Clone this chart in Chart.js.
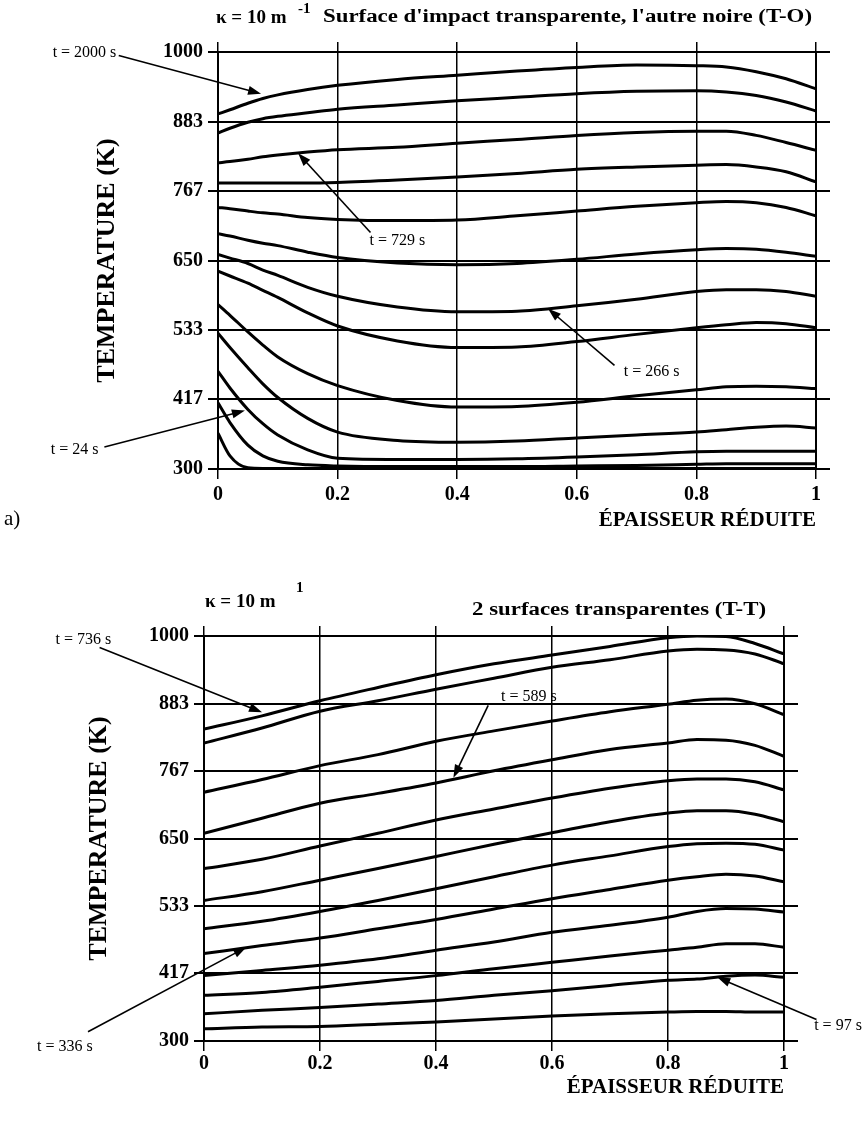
<!DOCTYPE html>
<html>
<head>
<meta charset="utf-8">
<script src="https://cdn.jsdelivr.net/npm/chart.js@4.4.1/dist/chart.umd.min.js"></script>
<style>
  body { margin: 0; background: #fff; width: 864px; height: 1123px; position: relative; overflow: hidden; }
  .box { position: absolute; left: 0; width: 864px; }
  #boxA { top: 0; height: 545px; }
  #boxB { top: 545px; height: 578px; }
  #lblA { position: absolute; left: 4px; top: 506px; font: 21px "Liberation Serif", serif; color: #000; }
</style>
</head>
<body>
<div class="box" id="boxA"><canvas id="chartTO"></canvas></div>
<div class="box" id="boxB"><canvas id="chartTT"></canvas></div>
<div id="lblA">a)</div>
<script>
// Tick labels (both charts)
const yTickLabels = [300, 417, 533, 650, 767, 883, 1000];
const xTickLabels = [0, 0.2, 0.4, 0.6, 0.8, 1];

// a) T-O : reduced thickness positions and temperature profiles (K), top to bottom
const xTO = [0, 0.02, 0.05, 0.075, 0.1, 0.15, 0.2, 0.3, 0.4, 0.5, 0.6, 0.7, 0.8, 0.85, 0.9, 0.95, 1];
const toCurve1  = [896, 903, 914, 922, 928, 937, 944, 954, 961, 968, 974, 978, 977, 975, 967, 955, 938];
const toCurve2  = [864, 872, 882, 888, 892, 898, 904, 911, 918, 924, 930, 934, 935, 933, 927, 916, 901];
const toCurve3  = [814, 816, 820, 824, 827, 832, 836, 840, 847, 853, 860, 865, 867, 867, 860, 848, 835];
const toCurve4  = [780, 780, 780, 780, 780, 780, 781, 785, 790, 796, 803, 807, 810, 811, 807, 799, 782];
const toCurve5  = [739, 737, 733, 730, 728, 722, 719, 717, 718, 725, 733, 741, 747, 749, 747, 739, 725];
const toCurve6  = [695, 691, 684, 679, 675, 664, 655, 646, 643, 645, 652, 661, 668, 670, 669, 664, 657];
const toCurve7  = [660, 654, 645, 634, 625, 605, 590, 572, 564, 565, 574, 585, 598, 601, 601, 598, 590];
const toCurve8  = [632, 624, 612, 600, 588, 562, 540, 515, 504, 505, 514, 526, 537, 542, 546, 544, 537];
const toCurve9  = [576, 558, 530, 508, 488, 460, 440, 415, 404, 405, 412, 423, 433, 438, 439, 438, 435];
const toCurve10 = [528, 504, 470, 443, 420, 385, 362, 348, 345, 347, 352, 357, 362, 366, 370, 372, 369];
const toCurve11 = [464, 436, 400, 376, 357, 332, 318, 316, 316, 317, 320, 324, 329, 330, 330, 330, 330];
const toCurve12 = [411, 378, 340, 322, 313, 307, 305, 304, 304, 304, 305, 306, 308, 309, 309, 309, 309];
const toCurve13 = [360, 322, 302, 301, 301, 301, 301, 301, 301, 301, 301, 301, 301, 301, 301, 301, 301];

// b) T-T
const xTT = [0, 0.1, 0.2, 0.3, 0.4, 0.5, 0.6, 0.7, 0.8, 0.85, 0.9, 0.95, 1];
const ttCurve1  = [839, 862, 888, 911, 933, 952, 967, 982, 997, 1000, 999, 987, 969];
const ttCurve2  = [815, 841, 870, 888, 908, 927, 946, 959, 974, 977, 976, 969, 952];
const ttCurve3  = [730, 752, 776, 795, 818, 836, 853, 869, 882, 889, 891, 883, 864];
const ttCurve4  = [659, 685, 711, 728, 746, 767, 786, 804, 815, 821, 820, 811, 792];
const ttCurve5  = [598, 614, 637, 659, 682, 701, 720, 737, 750, 753, 753, 748, 734];
const ttCurve6  = [543, 558, 578, 598, 619, 640, 660, 679, 694, 698, 698, 692, 679];
const ttCurve7  = [494, 507, 524, 543, 563, 584, 604, 620, 636, 641, 642, 640, 630];
const ttCurve8  = [451, 465, 478, 494, 510, 528, 546, 562, 578, 584, 588, 585, 575];
const ttCurve9  = [413, 422, 431, 442, 457, 471, 488, 500, 514, 524, 529, 528, 523];
const ttCurve10 = [379, 384, 393, 403, 413, 425, 436, 447, 457, 462, 468, 468, 462];
const ttCurve11 = [347, 353, 358, 364, 370, 379, 387, 396, 405, 407, 412, 414, 410];
const ttCurve12 = [321, 324, 325, 329, 333, 338, 343, 347, 350, 351, 351, 350, 350];

const seriesTO = [toCurve1, toCurve2, toCurve3, toCurve4, toCurve5, toCurve6, toCurve7,
  toCurve8, toCurve9, toCurve10, toCurve11, toCurve12, toCurve13];
const seriesTT = [ttCurve1, ttCurve2, ttCurve3, ttCurve4, ttCurve5, ttCurve6, ttCurve7,
  ttCurve8, ttCurve9, ttCurve10, ttCurve11, ttCurve12];

const serif = '"Liberation Serif", "Times New Roman", serif';

function buildDatasets(xs, series) {
  return series.map(vals => ({
    data: xs.map((x, i) => ({ x: x, y: vals[i] })),
    borderColor: '#000',
    borderWidth: 3,
    pointRadius: 0,
    cubicInterpolationMode: 'monotone',
    fill: false
  }));
}

// arrow with filled head at (x1, y1)
function drawArrow(ctx, x0, y0, x1, y1) {
  const ang = Math.atan2(y1 - y0, x1 - x0);
  const len = 13, half = 4.5;
  ctx.lineWidth = 1.6;
  ctx.beginPath();
  ctx.moveTo(x0, y0);
  ctx.lineTo(x1 - Math.cos(ang) * len * 0.8, y1 - Math.sin(ang) * len * 0.8);
  ctx.stroke();
  ctx.beginPath();
  ctx.moveTo(x1, y1);
  ctx.lineTo(x1 - Math.cos(ang) * len - Math.sin(ang) * half, y1 - Math.sin(ang) * len + Math.cos(ang) * half);
  ctx.lineTo(x1 - Math.cos(ang) * len + Math.sin(ang) * half, y1 - Math.sin(ang) * len - Math.cos(ang) * half);
  ctx.closePath();
  ctx.fill();
}

// text squeezed/stretched to a given width
function fitText(ctx, text, x, y, width, align) {
  const w = ctx.measureText(text).width;
  const k = width / w;
  ctx.save();
  ctx.textAlign = 'left';
  const left = align === 'right' ? x - width : x;
  ctx.translate(left, y);
  ctx.scale(k, 1);
  ctx.fillText(text, 0, 0);
  ctx.restore();
}

const notesPlugin = {
  id: 'notes',
  afterDraw(chart, args, opts) {
    const { ctx, chartArea: a, scales } = chart;
    const sx = scales.x, sy = scales.y;
    ctx.save();
    ctx.fillStyle = '#000';
    ctx.strokeStyle = '#000';
    ctx.textBaseline = 'middle';

    // heading
    const h = opts.heading;
    ctx.font = 'bold 19px ' + serif;
    ctx.textAlign = 'left';
    ctx.fillText(h.kappa, a.left + h.kappaDx, a.top + h.kappaDy);
    ctx.font = 'bold 15px ' + serif;
    ctx.fillText(h.sup, a.left + h.supDx, a.top + h.supDy);
    ctx.font = 'bold 18px ' + serif;
    fitText(ctx, h.text, a.right + h.textDx, a.top + h.textDy, h.textW, 'right');

    // time labels with arrows
    ctx.font = '16px ' + serif;
    opts.notes.forEach(n => {
      ctx.textAlign = n.align;
      ctx.fillText(n.text, sx.getPixelForValue(n.at[0]), sy.getPixelForValue(n.at[1]));
      drawArrow(ctx,
        sx.getPixelForValue(n.from[0]), sy.getPixelForValue(n.from[1]),
        sx.getPixelForValue(n.to[0]), sy.getPixelForValue(n.to[1]));
    });
    ctx.restore();
  }
};

function makeChart(id, xs, series, geo, heading, notes) {
  const setY = s => { s.ticks = yTickLabels.map(v => ({ value: v })); };
  const setX = s => { s.ticks = xTickLabels.map(v => ({ value: v })); };
  return new Chart(document.getElementById(id), {
    type: 'line',
    data: { datasets: buildDatasets(xs, series) },
    plugins: [notesPlugin],
    options: {
      responsive: true,
      maintainAspectRatio: false,
      animation: false,
      events: [],
      layout: { padding: { top: geo.top - 10, right: 864 - geo.right - 14, left: 0, bottom: 0 } },
      plugins: {
        legend: { display: false },
        tooltip: { enabled: false },
        notes: { heading: heading, notes: notes }
      },
      scales: {
        x: {
          type: 'linear', position: 'bottom', min: 0, max: 1,
          afterBuildTicks: setX,
          afterFit: s => { s.height = geo.height - geo.bottom; },
          grid: { color: '#000', lineWidth: 1.5, tickLength: 10, tickColor: '#000' },
          border: { color: '#000', width: 2 },
          ticks: {
            color: '#000', padding: geo.xTickPad, maxRotation: 0,
            font: { family: serif, size: 20, weight: 'bold' },
            callback: v => String(v)
          },
          title: {
            display: true, text: 'ÉPAISSEUR RÉDUITE', align: 'end', color: '#000',
            font: { family: serif, size: 21, weight: 'bold' },
            padding: { top: 0, bottom: geo.xTitlePad }
          }
        },
        xTop: {
          type: 'linear', position: 'top', min: 0, max: 1,
          afterBuildTicks: setX,
          afterFit: s => { s.height = 10; },
          grid: { drawOnChartArea: false, color: '#000', lineWidth: 1.5, tickLength: 10 },
          border: { color: '#000', width: 2 },
          ticks: { display: false }
        },
        y: {
          type: 'linear', position: 'left', min: 300, max: 1000,
          afterBuildTicks: setY,
          afterFit: s => { s.width = geo.left; },
          grid: { color: '#000', lineWidth: 2, tickLength: 10 },
          border: { color: '#000', width: 2 },
          ticks: {
            color: '#000', padding: 5,
            font: { family: serif, size: 20, weight: 'bold' },
            callback: v => String(v)
          },
          title: {
            display: true, text: 'TEMPERATURE (K)', color: '#000',
            font: { family: serif, size: 26, weight: 'bold' },
            padding: { top: geo.yTitleX - 16, bottom: 0 }
          }
        },
        yRight: {
          type: 'linear', position: 'right', min: 300, max: 1000,
          afterBuildTicks: setY,
          afterFit: s => { s.width = 14; },
          grid: { drawOnChartArea: false, color: '#000', lineWidth: 2, tickLength: 14 },
          border: { color: '#000', width: 2 },
          ticks: { display: false }
        }
      }
    }
  });
}

makeChart('chartTO', xTO, seriesTO,
  { top: 52, bottom: 469, left: 218, right: 816, height: 545, xTickPad: 4, xTitlePad: 12, yTitleX: 108 },
  { kappa: 'κ = 10 m', kappaDx: -2, kappaDy: -34, sup: '-1', supDx: 80, supDy: -43,
    text: "Surface d'impact transparente, l'autre noire (T-O)", textDx: -4, textDy: -35, textW: 489 },
  [
    { text: 't = 2000 s', align: 'right', at: [-0.17, 998], from: [-0.166, 994], to: [0.072, 930] },
    { text: 't = 729 s', align: 'center', at: [0.3, 683], from: [0.255, 697], to: [0.134, 830] },
    { text: 't = 266 s', align: 'center', at: [0.725, 463], from: [0.663, 474], to: [0.552, 569] },
    { text: 't = 24 s', align: 'right', at: [-0.2, 333], from: [-0.19, 337], to: [0.045, 398] }
  ]);

makeChart('chartTT', xTT, seriesTT,
  { top: 91, bottom: 496, left: 204, right: 784, height: 578, xTickPad: 1, xTitlePad: 23, yTitleX: 100 },
  { kappa: 'κ = 10 m', kappaDx: 1, kappaDy: -34, sup: '1', supDx: 92, supDy: -48,
    text: '2 surfaces transparentes (T-T)', textDx: -18, textDy: -26, textW: 294 },
  [
    { text: 't = 736 s', align: 'right', at: [-0.16, 993], from: [-0.18, 980], to: [0.1, 868] },
    { text: 't = 589 s', align: 'center', at: [0.56, 895], from: [0.49, 880], to: [0.43, 755] },
    { text: 't = 336 s', align: 'center', at: [-0.24, 290], from: [-0.2, 316], to: [0.073, 462] },
    { text: 't = 97 s', align: 'left', at: [1.052, 326], from: [1.056, 337], to: [0.885, 410] }
  ]);
</script>
</body>
</html>
